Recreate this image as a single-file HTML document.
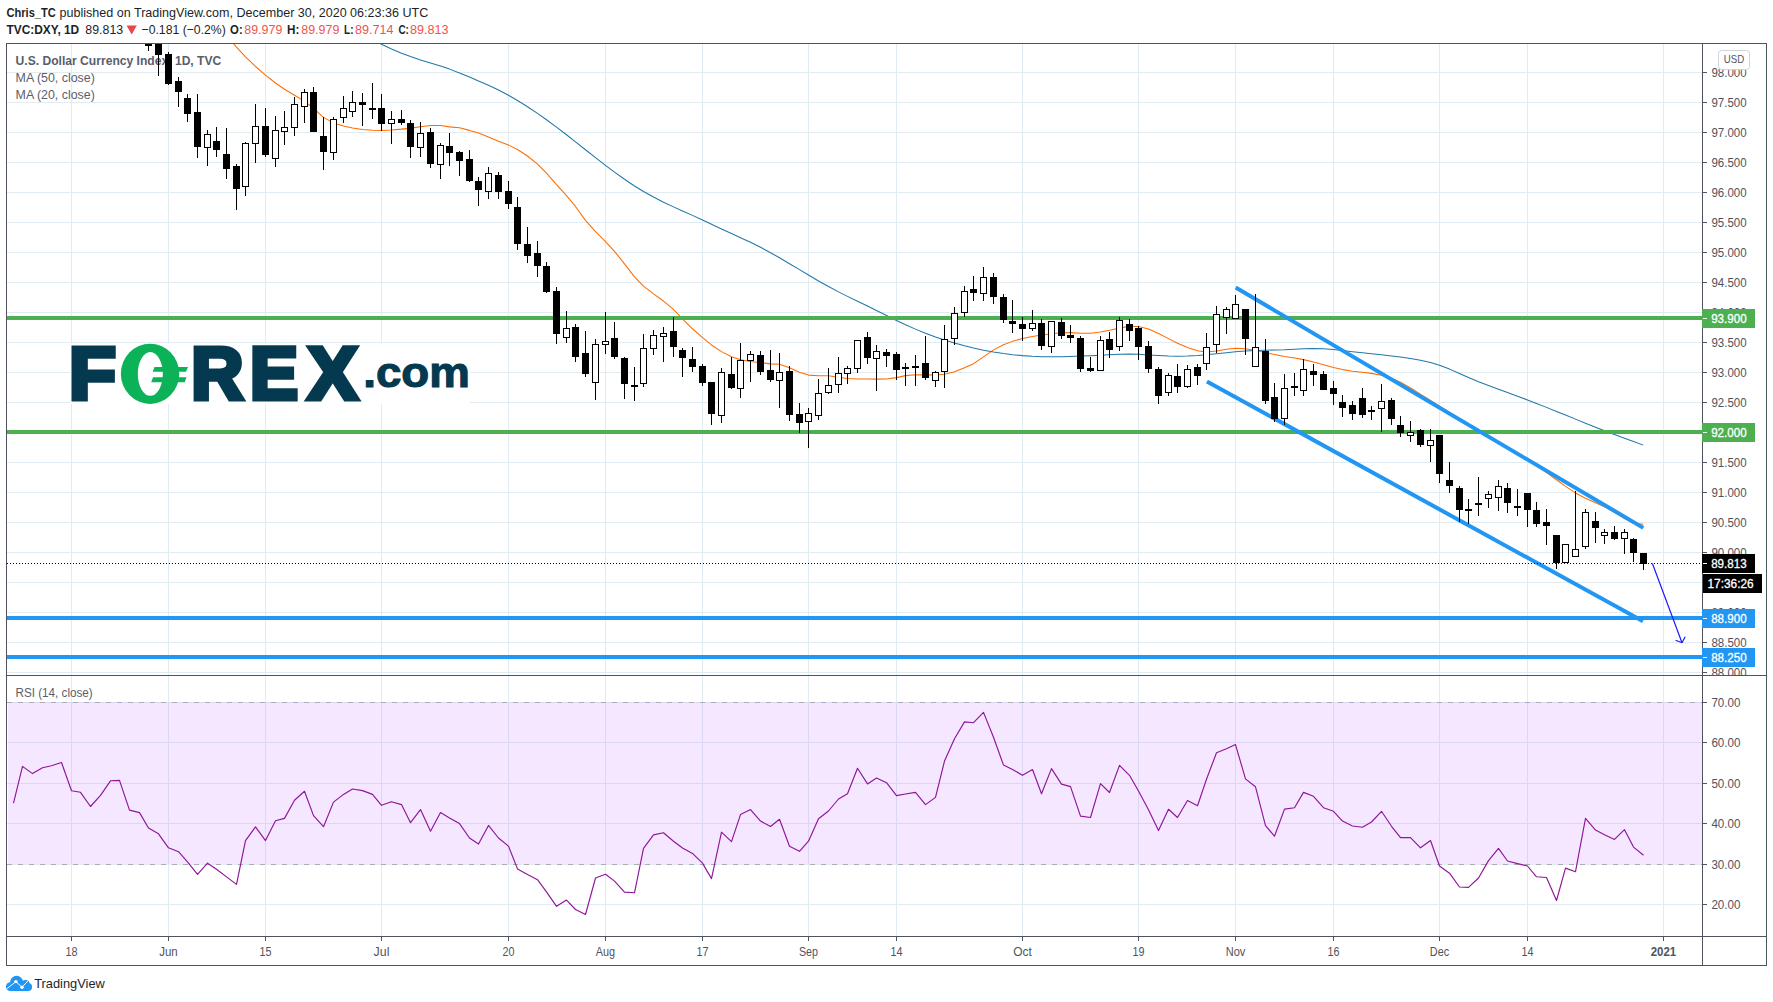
<!DOCTYPE html>
<html lang="en"><head><meta charset="utf-8"><title>DXY chart</title>
<style>html,body{margin:0;padding:0;background:#fff}body{width:1773px;height:1002px;overflow:hidden}</style></head>
<body>
<svg width="1773" height="1002" viewBox="0 0 1773 1002" style="display:block;font-family:'Liberation Sans', Arial, sans-serif">
<rect width="1773" height="1002" fill="#fff"/>
<defs>
<clipPath id="cpMain"><rect x="7" y="44" width="1695" height="631"/></clipPath>
<clipPath id="cpScale"><rect x="1703" y="44" width="63" height="631"/></clipPath>
<clipPath id="cpRsi"><rect x="7" y="676" width="1695" height="260"/></clipPath>
</defs>
<text x="6.5" y="16.9" font-size="13" fill="#1c1f2a" font-weight="bold" text-anchor="start" textLength="49.3" lengthAdjust="spacingAndGlyphs">Chris_TC</text>
<text x="59.6" y="16.9" font-size="13" fill="#1c1f2a" font-weight="normal" text-anchor="start" textLength="368.6" lengthAdjust="spacingAndGlyphs">published on TradingView.com, December 30, 2020 06:23:36 UTC</text>
<text x="6.5" y="33.6" font-size="13" fill="#1c1f2a" font-weight="bold" text-anchor="start" textLength="72.7" lengthAdjust="spacingAndGlyphs">TVC:DXY, 1D</text>
<text x="85.3" y="33.6" font-size="13" fill="#1c1f2a" font-weight="normal" text-anchor="start" textLength="37.9" lengthAdjust="spacingAndGlyphs">89.813</text>
<path d="M126.6 25.6h10.2l-5.1 9z" fill="#e8464d"/>
<text x="141.5" y="33.6" font-size="13" fill="#1c1f2a" font-weight="normal" text-anchor="start" textLength="84.3" lengthAdjust="spacingAndGlyphs">−0.181 (−0.2%)</text>
<text x="230.1" y="33.6" font-size="13" fill="#1c1f2a" font-weight="bold" text-anchor="start" textLength="12.6" lengthAdjust="spacingAndGlyphs">O:</text>
<text x="244.3" y="33.6" font-size="13" fill="#ef5350" font-weight="normal" text-anchor="start" textLength="38" lengthAdjust="spacingAndGlyphs">89.979</text>
<text x="287" y="33.6" font-size="13" fill="#1c1f2a" font-weight="bold" text-anchor="start" textLength="12.3" lengthAdjust="spacingAndGlyphs">H:</text>
<text x="301.3" y="33.6" font-size="13" fill="#ef5350" font-weight="normal" text-anchor="start" textLength="38" lengthAdjust="spacingAndGlyphs">89.979</text>
<text x="344" y="33.6" font-size="13" fill="#1c1f2a" font-weight="bold" text-anchor="start" textLength="9.5" lengthAdjust="spacingAndGlyphs">L:</text>
<text x="355" y="33.6" font-size="13" fill="#ef5350" font-weight="normal" text-anchor="start" textLength="38.6" lengthAdjust="spacingAndGlyphs">89.714</text>
<text x="398.4" y="33.6" font-size="13" fill="#1c1f2a" font-weight="bold" text-anchor="start" textLength="10.5" lengthAdjust="spacingAndGlyphs">C:</text>
<text x="410" y="33.6" font-size="13" fill="#ef5350" font-weight="normal" text-anchor="start" textLength="38.6" lengthAdjust="spacingAndGlyphs">89.813</text>
<g shape-rendering="crispEdges" fill="#e1ecf2">
<rect x="71" y="44" width="1" height="631"/>
<rect x="71" y="676" width="1" height="260"/>
<rect x="168" y="44" width="1" height="631"/>
<rect x="168" y="676" width="1" height="260"/>
<rect x="265" y="44" width="1" height="631"/>
<rect x="265" y="676" width="1" height="260"/>
<rect x="381" y="44" width="1" height="631"/>
<rect x="381" y="676" width="1" height="260"/>
<rect x="508" y="44" width="1" height="631"/>
<rect x="508" y="676" width="1" height="260"/>
<rect x="605" y="44" width="1" height="631"/>
<rect x="605" y="676" width="1" height="260"/>
<rect x="702" y="44" width="1" height="631"/>
<rect x="702" y="676" width="1" height="260"/>
<rect x="808" y="44" width="1" height="631"/>
<rect x="808" y="676" width="1" height="260"/>
<rect x="896" y="44" width="1" height="631"/>
<rect x="896" y="676" width="1" height="260"/>
<rect x="1022" y="44" width="1" height="631"/>
<rect x="1022" y="676" width="1" height="260"/>
<rect x="1138" y="44" width="1" height="631"/>
<rect x="1138" y="676" width="1" height="260"/>
<rect x="1235" y="44" width="1" height="631"/>
<rect x="1235" y="676" width="1" height="260"/>
<rect x="1333" y="44" width="1" height="631"/>
<rect x="1333" y="676" width="1" height="260"/>
<rect x="1439" y="44" width="1" height="631"/>
<rect x="1439" y="676" width="1" height="260"/>
<rect x="1527" y="44" width="1" height="631"/>
<rect x="1527" y="676" width="1" height="260"/>
<rect x="1663" y="44" width="1" height="631"/>
<rect x="1663" y="676" width="1" height="260"/>
<rect x="7" y="72" width="1695" height="1"/>
<rect x="7" y="102" width="1695" height="1"/>
<rect x="7" y="132" width="1695" height="1"/>
<rect x="7" y="162" width="1695" height="1"/>
<rect x="7" y="192" width="1695" height="1"/>
<rect x="7" y="222" width="1695" height="1"/>
<rect x="7" y="252" width="1695" height="1"/>
<rect x="7" y="282" width="1695" height="1"/>
<rect x="7" y="312" width="1695" height="1"/>
<rect x="7" y="342" width="1695" height="1"/>
<rect x="7" y="372" width="1695" height="1"/>
<rect x="7" y="402" width="1695" height="1"/>
<rect x="7" y="432" width="1695" height="1"/>
<rect x="7" y="462" width="1695" height="1"/>
<rect x="7" y="492" width="1695" height="1"/>
<rect x="7" y="522" width="1695" height="1"/>
<rect x="7" y="552" width="1695" height="1"/>
<rect x="7" y="582" width="1695" height="1"/>
<rect x="7" y="612" width="1695" height="1"/>
<rect x="7" y="642" width="1695" height="1"/>
<rect x="7" y="672" width="1695" height="1"/>
<rect x="7" y="702" width="1695" height="1"/>
<rect x="7" y="742" width="1695" height="1"/>
<rect x="7" y="783" width="1695" height="1"/>
<rect x="7" y="823" width="1695" height="1"/>
<rect x="7" y="864" width="1695" height="1"/>
<rect x="7" y="904" width="1695" height="1"/>
</g>
<rect x="8" y="702" width="1694" height="162" fill="rgb(153,21,255)" fill-opacity="0.1" shape-rendering="crispEdges"/>
<g stroke="#b0aab2" stroke-width="1" stroke-dasharray="5 6" shape-rendering="crispEdges">
<line x1="7" y1="702.5" x2="1702" y2="702.5"/>
<line x1="7" y1="864.5" x2="1702" y2="864.5"/>
</g>
<polyline points="13.5,803.2 22.5,766.4 32.5,773.6 42.5,767.8 51.5,765.7 61.5,762.5 71.5,790.8 80.5,792.3 90.5,806.5 100.5,795.3 110.5,780.8 119.5,780.4 129.5,810.1 139.5,812.6 148.5,828.0 158.5,833.8 168.5,847.8 178.5,851.7 187.5,861.8 197.5,874.4 207.5,863.2 216.5,869.3 226.5,876.9 236.5,884.4 245.5,840.6 255.5,826.9 265.5,840.6 275.5,820.8 284.5,818.4 294.5,800.3 304.5,791.3 313.5,815.6 323.5,826.7 333.5,802.1 343.5,794.4 352.5,789.0 362.5,790.6 372.5,794.4 381.5,805.3 391.5,801.7 401.5,804.6 410.5,822.7 420.5,809.6 430.5,831.2 440.5,812.5 449.5,817.9 459.5,823.6 469.5,838.0 478.5,844.1 488.5,825.4 498.5,838.0 508.5,846.1 517.5,868.9 527.5,874.5 537.5,879.7 546.5,891.9 556.5,906.3 566.5,900.1 575.5,909.5 585.5,914.5 595.5,878.0 605.5,874.3 614.5,881.1 624.5,892.1 634.5,892.8 643.5,848.4 653.5,834.9 663.5,832.8 673.5,841.2 682.5,848.0 692.5,853.4 702.5,863.1 711.5,878.6 721.5,832.2 731.5,841.6 740.5,814.6 750.5,809.6 760.5,821.1 770.5,826.5 779.5,819.3 789.5,846.3 799.5,851.3 808.5,841.2 818.5,818.8 828.5,811.0 838.5,799.0 847.5,793.8 857.5,768.3 867.5,783.9 876.5,778.0 886.5,782.7 896.5,795.6 905.5,794.0 915.5,792.4 925.5,804.6 935.5,797.4 944.5,761.1 954.5,738.7 964.5,721.9 973.5,722.7 983.5,712.4 993.5,737.2 1003.5,765.1 1012.5,769.5 1022.5,775.3 1032.5,769.5 1041.5,793.8 1051.5,768.6 1061.5,784.1 1070.5,786.6 1080.5,816.1 1090.5,817.5 1100.5,783.6 1109.5,792.5 1119.5,765.4 1129.5,775.3 1138.5,791.0 1148.5,809.8 1158.5,830.5 1168.5,809.3 1177.5,817.5 1187.5,800.5 1197.5,805.7 1206.5,779.3 1216.5,752.7 1226.5,748.7 1235.5,744.6 1245.5,778.9 1255.5,786.8 1265.5,825.6 1274.5,836.2 1284.5,809.1 1294.5,807.8 1303.5,792.4 1313.5,796.3 1323.5,807.7 1333.5,811.3 1342.5,821.1 1352.5,826.0 1362.5,827.2 1371.5,822.0 1381.5,811.3 1391.5,826.3 1400.5,837.6 1410.5,837.6 1420.5,847.8 1430.5,840.5 1439.5,866.0 1449.5,873.2 1459.5,887.0 1468.5,887.4 1478.5,878.0 1488.5,860.6 1498.5,848.4 1507.5,861.0 1517.5,863.6 1527.5,866.0 1536.5,876.8 1546.5,877.5 1556.5,900.5 1565.5,868.1 1575.5,871.7 1585.5,818.4 1595.5,830.1 1604.5,834.7 1614.5,839.4 1624.5,829.7 1633.5,847.1 1643.5,855.2" fill="none" stroke="#8e1599" stroke-width="1.15" stroke-linejoin="round" clip-path="url(#cpRsi)"/>
<text x="15.5" y="697" font-size="12" fill="#5a5e6b" font-weight="normal" text-anchor="start" textLength="77.2" lengthAdjust="spacingAndGlyphs">RSI (14, close)</text>
<text x="15.6" y="64.7" font-size="12" fill="#5a5e6b" font-weight="bold" text-anchor="start" textLength="205.7" lengthAdjust="spacingAndGlyphs">U.S. Dollar Currency Index, 1D, TVC</text>
<text x="15.6" y="81.9" font-size="12" fill="#5a5e6b" font-weight="normal" text-anchor="start" textLength="79.2" lengthAdjust="spacingAndGlyphs">MA (50, close)</text>
<text x="15.6" y="98.5" font-size="12" fill="#5a5e6b" font-weight="normal" text-anchor="start" textLength="79.2" lengthAdjust="spacingAndGlyphs">MA (20, close)</text>
<rect x="70" y="343.5" width="399.5" height="60.5" fill="#fff"/>
<g font-weight="bold" fill="#04394f" stroke="#04394f" stroke-linejoin="miter">
<text transform="translate(68.98 399.34) scale(1.0581 1.0196)" font-size="72.6" stroke-width="5">F</text>
<text transform="translate(120.94 399.96) scale(1.0196 1.0385)" font-size="72.6" stroke-width="0" fill="#0bb257" stroke="#0bb257">O</text>
<text transform="translate(191.21 399.34) scale(0.9943 1.0196)" font-size="72.6" stroke-width="5">R</text>
<text transform="translate(250.12 399.34) scale(0.9915 1.0196)" font-size="72.6" stroke-width="5">E</text>
<text transform="translate(307.72 399.34) scale(1.0304 1.0196)" font-size="72.6" stroke-width="5">X</text>
<text transform="translate(363.19 386.52) scale(1.0039 0.9500)" font-size="45.5" stroke-width="1.2">.com</text>
</g>
<ellipse cx="150.05" cy="373.85" rx="29.2" ry="30.05" fill="#0bb257"/>
<ellipse cx="150.3" cy="373.95" rx="12.5" ry="21.9" fill="#fff"/>
<path d="M154.5 367H188L186 371.8H152.7z M153 377.3H186.5L184.7 382.3H151.2z" fill="#0bb257"/>
<g clip-path="url(#cpMain)" fill="none" stroke-linejoin="round">
<polyline stroke="#ff6d00" stroke-width="1.05" points="233.5,43.71 236.5,47.20 245.5,56.89 255.5,66.48 265.5,75.14 275.5,82.99 284.5,89.24 294.5,95.26 304.5,101.34 313.5,108.29 323.5,117.36 333.5,122.88 343.5,126.00 352.5,127.98 362.5,129.48 372.5,130.27 381.5,130.41 391.5,129.99 401.5,129.12 410.5,128.11 420.5,126.79 430.5,125.49 440.5,125.55 449.5,126.87 459.5,127.79 469.5,130.38 478.5,133.02 488.5,137.05 498.5,141.33 508.5,145.11 517.5,149.51 527.5,155.98 537.5,164.21 546.5,173.21 556.5,184.68 566.5,195.60 575.5,206.45 585.5,220.32 595.5,231.66 605.5,241.53 614.5,251.31 624.5,263.90 634.5,276.94 643.5,286.09 653.5,293.90 663.5,301.05 673.5,309.43 682.5,318.80 692.5,328.76 702.5,337.64 711.5,344.94 721.5,351.65 731.5,356.69 740.5,359.78 750.5,361.59 760.5,362.72 770.5,363.87 779.5,364.28 789.5,367.68 799.5,372.26 808.5,375.11 818.5,375.68 828.5,375.83 838.5,377.33 847.5,378.47 857.5,378.99 867.5,379.08 876.5,379.11 886.5,378.92 896.5,377.63 905.5,375.62 915.5,374.73 925.5,374.89 935.5,375.00 944.5,374.31 954.5,371.84 964.5,367.82 973.5,363.65 983.5,356.89 993.5,349.85 1003.5,344.74 1012.5,341.37 1022.5,338.51 1032.5,336.40 1041.5,334.97 1051.5,333.74 1061.5,332.79 1070.5,332.62 1080.5,333.21 1090.5,333.25 1100.5,332.09 1109.5,330.23 1119.5,327.91 1129.5,326.36 1138.5,326.47 1148.5,328.99 1158.5,333.41 1168.5,338.63 1177.5,343.20 1187.5,347.57 1197.5,350.73 1206.5,351.93 1216.5,351.07 1226.5,349.29 1235.5,348.26 1245.5,348.84 1255.5,350.55 1265.5,352.58 1274.5,354.47 1284.5,356.44 1294.5,358.10 1303.5,359.63 1313.5,361.95 1323.5,364.76 1333.5,367.54 1342.5,369.61 1352.5,371.16 1362.5,372.30 1371.5,373.39 1381.5,375.18 1391.5,378.13 1400.5,382.19 1410.5,387.95 1420.5,394.12 1430.5,400.47 1439.5,406.28 1449.5,412.78 1459.5,419.25 1468.5,424.99 1478.5,431.21 1488.5,437.21 1498.5,443.05 1507.5,448.28 1517.5,454.14 1527.5,460.19 1536.5,465.88 1546.5,472.57 1556.5,479.76 1565.5,486.34 1575.5,492.93 1585.5,498.18 1595.5,502.67 1604.5,506.78 1614.5,512.19 1624.5,518.59 1633.5,523.16 1643.3,524.20"/>
<polyline stroke="#1f78a8" stroke-width="1.05" points="380.4,43.68 381.5,44.24 391.5,49.01 401.5,53.19 410.5,56.55 420.5,59.90 430.5,63.00 440.5,66.10 449.5,69.12 459.5,72.92 469.5,77.06 478.5,80.93 488.5,85.30 498.5,89.98 508.5,95.23 517.5,100.44 527.5,106.70 537.5,113.40 546.5,119.77 556.5,127.14 566.5,134.78 575.5,141.83 585.5,149.74 595.5,157.64 605.5,165.39 614.5,172.14 624.5,179.29 634.5,185.96 643.5,191.47 653.5,197.07 663.5,202.19 673.5,206.88 682.5,210.90 692.5,215.36 702.5,220.02 711.5,224.31 721.5,228.99 731.5,233.55 740.5,237.65 750.5,242.34 760.5,247.32 770.5,252.69 779.5,257.80 789.5,263.69 799.5,269.67 808.5,275.06 818.5,280.93 828.5,286.57 838.5,291.86 847.5,296.35 857.5,301.17 867.5,305.98 876.5,310.43 886.5,315.45 896.5,320.41 905.5,324.69 915.5,329.12 925.5,333.21 935.5,336.94 944.5,340.00 954.5,343.09 964.5,345.85 973.5,348.05 983.5,350.19 993.5,352.03 1003.5,353.55 1012.5,354.67 1022.5,355.63 1032.5,356.30 1041.5,356.67 1051.5,356.82 1061.5,356.70 1070.5,356.40 1080.5,356.05 1090.5,355.76 1100.5,355.32 1109.5,354.77 1119.5,354.23 1129.5,354.04 1138.5,354.31 1148.5,354.92 1158.5,355.58 1168.5,356.10 1177.5,356.27 1187.5,356.03 1197.5,355.43 1206.5,354.67 1216.5,353.68 1226.5,352.65 1235.5,351.78 1245.5,350.97 1255.5,350.45 1265.5,350.19 1274.5,350.05 1284.5,349.81 1294.5,349.34 1303.5,348.84 1313.5,348.56 1323.5,348.83 1333.5,349.57 1342.5,350.49 1352.5,351.66 1362.5,352.81 1371.5,353.78 1381.5,354.83 1391.5,355.94 1400.5,357.05 1410.5,358.50 1420.5,360.27 1430.5,362.57 1439.5,365.29 1449.5,369.11 1459.5,373.47 1468.5,377.50 1478.5,381.72 1488.5,385.57 1498.5,389.27 1507.5,392.55 1517.5,396.22 1527.5,399.96 1536.5,403.42 1546.5,407.37 1556.5,411.39 1565.5,415.05 1575.5,419.12 1585.5,423.17 1595.5,427.17 1604.5,430.70 1614.5,434.54 1624.5,438.30 1633.5,441.60 1643.3,445.12"/>
<g shape-rendering="crispEdges">
<rect x="7" y="316" width="1695" height="4" fill="#4caf50"/>
<rect x="7" y="430" width="1695" height="4" fill="#4caf50"/>
<rect x="7" y="616" width="1695" height="4" fill="#2196f3"/>
<rect x="7" y="655" width="1695" height="4" fill="#2196f3"/>
</g>
<line x1="1235.7" y1="287.5" x2="1643.3" y2="527.9" stroke="#2196f3" stroke-width="4"/>
<line x1="1206.9" y1="381.4" x2="1643" y2="621.3" stroke="#2196f3" stroke-width="4"/>
<path d="M1652.4 563.5L1682 642.7M1675.6 640.3L1682 642.7L1685.2 636.7" stroke="#1a1aff" stroke-width="1.2"/>
<line x1="7" y1="563.5" x2="1702" y2="563.5" stroke="#000" stroke-width="1" stroke-dasharray="1 2" shape-rendering="crispEdges"/>
</g>
<g clip-path="url(#cpMain)" shape-rendering="crispEdges">
<rect x="148" y="46" width="1" height="5"/>
<rect x="145" y="30" width="7" height="16"/>
<rect x="158" y="55" width="1" height="21"/>
<rect x="155" y="30" width="7" height="25"/>
<rect x="168" y="52" width="1" height="2"/>
<rect x="168" y="84" width="1" height="1"/>
<rect x="165" y="54" width="7" height="30"/>
<rect x="178" y="77" width="1" height="4"/>
<rect x="178" y="92" width="1" height="15"/>
<rect x="175" y="81" width="7" height="11"/>
<rect x="187" y="94" width="1" height="4"/>
<rect x="187" y="114" width="1" height="8"/>
<rect x="184" y="98" width="7" height="16"/>
<rect x="197" y="94" width="1" height="18"/>
<rect x="197" y="147" width="1" height="11"/>
<rect x="194" y="112" width="7" height="35"/>
<rect x="207" y="130" width="1" height="4"/>
<rect x="207" y="148" width="1" height="18"/>
<rect x="204" y="134" width="7" height="14"/>
<rect x="205" y="135" width="5" height="12" fill="#fff"/>
<rect x="216" y="127" width="1" height="14"/>
<rect x="216" y="150" width="1" height="7"/>
<rect x="213" y="141" width="7" height="9"/>
<rect x="226" y="128" width="1" height="26"/>
<rect x="226" y="169" width="1" height="10"/>
<rect x="223" y="154" width="7" height="15"/>
<rect x="236" y="164" width="1" height="2"/>
<rect x="236" y="189" width="1" height="21"/>
<rect x="233" y="166" width="7" height="23"/>
<rect x="245" y="142" width="1" height="1"/>
<rect x="245" y="187" width="1" height="9"/>
<rect x="242" y="143" width="7" height="44"/>
<rect x="243" y="144" width="5" height="42" fill="#fff"/>
<rect x="255" y="104" width="1" height="22"/>
<rect x="255" y="144" width="1" height="19"/>
<rect x="252" y="126" width="7" height="18"/>
<rect x="253" y="127" width="5" height="16" fill="#fff"/>
<rect x="265" y="108" width="1" height="18"/>
<rect x="265" y="155" width="1" height="2"/>
<rect x="262" y="126" width="7" height="29"/>
<rect x="275" y="116" width="1" height="14"/>
<rect x="275" y="159" width="1" height="8"/>
<rect x="272" y="130" width="7" height="29"/>
<rect x="273" y="131" width="5" height="27" fill="#fff"/>
<rect x="284" y="111" width="1" height="16"/>
<rect x="284" y="132" width="1" height="13"/>
<rect x="281" y="127" width="7" height="5"/>
<rect x="282" y="128" width="5" height="3" fill="#fff"/>
<rect x="294" y="97" width="1" height="7"/>
<rect x="294" y="128" width="1" height="8"/>
<rect x="291" y="104" width="7" height="24"/>
<rect x="292" y="105" width="5" height="22" fill="#fff"/>
<rect x="304" y="89" width="1" height="3"/>
<rect x="304" y="107" width="1" height="16"/>
<rect x="301" y="92" width="7" height="15"/>
<rect x="302" y="93" width="5" height="13" fill="#fff"/>
<rect x="313" y="87" width="1" height="5"/>
<rect x="310" y="92" width="7" height="40"/>
<rect x="323" y="117" width="1" height="19"/>
<rect x="323" y="152" width="1" height="18"/>
<rect x="320" y="136" width="7" height="16"/>
<rect x="333" y="117" width="1" height="2"/>
<rect x="333" y="153" width="1" height="7"/>
<rect x="330" y="119" width="7" height="34"/>
<rect x="331" y="120" width="5" height="32" fill="#fff"/>
<rect x="343" y="96" width="1" height="12"/>
<rect x="343" y="118" width="1" height="5"/>
<rect x="340" y="108" width="7" height="10"/>
<rect x="341" y="109" width="5" height="8" fill="#fff"/>
<rect x="352" y="91" width="1" height="11"/>
<rect x="352" y="112" width="1" height="5"/>
<rect x="349" y="102" width="7" height="10"/>
<rect x="350" y="103" width="5" height="8" fill="#fff"/>
<rect x="362" y="93" width="1" height="9"/>
<rect x="362" y="105" width="1" height="21"/>
<rect x="359" y="102" width="7" height="3"/>
<rect x="372" y="83" width="1" height="25"/>
<rect x="372" y="110" width="1" height="9"/>
<rect x="369" y="108" width="7" height="2"/>
<rect x="381" y="94" width="1" height="14"/>
<rect x="381" y="124" width="1" height="7"/>
<rect x="378" y="108" width="7" height="16"/>
<rect x="391" y="111" width="1" height="8"/>
<rect x="391" y="124" width="1" height="20"/>
<rect x="388" y="119" width="7" height="5"/>
<rect x="389" y="120" width="5" height="3" fill="#fff"/>
<rect x="401" y="110" width="1" height="9"/>
<rect x="401" y="123" width="1" height="2"/>
<rect x="398" y="119" width="7" height="4"/>
<rect x="410" y="120" width="1" height="3"/>
<rect x="410" y="147" width="1" height="11"/>
<rect x="407" y="123" width="7" height="24"/>
<rect x="420" y="122" width="1" height="11"/>
<rect x="420" y="148" width="1" height="9"/>
<rect x="417" y="133" width="7" height="15"/>
<rect x="418" y="134" width="5" height="13" fill="#fff"/>
<rect x="430" y="128" width="1" height="4"/>
<rect x="430" y="164" width="1" height="4"/>
<rect x="427" y="132" width="7" height="32"/>
<rect x="440" y="143" width="1" height="2"/>
<rect x="440" y="165" width="1" height="14"/>
<rect x="437" y="145" width="7" height="20"/>
<rect x="438" y="146" width="5" height="18" fill="#fff"/>
<rect x="449" y="133" width="1" height="13"/>
<rect x="449" y="153" width="1" height="13"/>
<rect x="446" y="146" width="7" height="7"/>
<rect x="459" y="151" width="1" height="1"/>
<rect x="459" y="161" width="1" height="15"/>
<rect x="456" y="152" width="7" height="9"/>
<rect x="469" y="150" width="1" height="9"/>
<rect x="469" y="181" width="1" height="1"/>
<rect x="466" y="159" width="7" height="22"/>
<rect x="478" y="177" width="1" height="4"/>
<rect x="478" y="190" width="1" height="16"/>
<rect x="475" y="181" width="7" height="9"/>
<rect x="488" y="167" width="1" height="6"/>
<rect x="488" y="192" width="1" height="7"/>
<rect x="485" y="173" width="7" height="19"/>
<rect x="486" y="174" width="5" height="17" fill="#fff"/>
<rect x="498" y="172" width="1" height="3"/>
<rect x="498" y="192" width="1" height="7"/>
<rect x="495" y="175" width="7" height="17"/>
<rect x="508" y="181" width="1" height="10"/>
<rect x="508" y="204" width="1" height="5"/>
<rect x="505" y="191" width="7" height="13"/>
<rect x="517" y="197" width="1" height="10"/>
<rect x="517" y="244" width="1" height="6"/>
<rect x="514" y="207" width="7" height="37"/>
<rect x="527" y="227" width="1" height="17"/>
<rect x="527" y="256" width="1" height="7"/>
<rect x="524" y="244" width="7" height="12"/>
<rect x="537" y="241" width="1" height="12"/>
<rect x="537" y="266" width="1" height="11"/>
<rect x="534" y="253" width="7" height="13"/>
<rect x="546" y="262" width="1" height="4"/>
<rect x="546" y="292" width="1" height="1"/>
<rect x="543" y="266" width="7" height="26"/>
<rect x="556" y="287" width="1" height="4"/>
<rect x="556" y="334" width="1" height="10"/>
<rect x="553" y="291" width="7" height="43"/>
<rect x="566" y="311" width="1" height="17"/>
<rect x="566" y="338" width="1" height="5"/>
<rect x="563" y="328" width="7" height="10"/>
<rect x="564" y="329" width="5" height="8" fill="#fff"/>
<rect x="575" y="324" width="1" height="3"/>
<rect x="575" y="357" width="1" height="5"/>
<rect x="572" y="327" width="7" height="30"/>
<rect x="585" y="331" width="1" height="22"/>
<rect x="585" y="374" width="1" height="3"/>
<rect x="582" y="353" width="7" height="21"/>
<rect x="595" y="339" width="1" height="5"/>
<rect x="595" y="383" width="1" height="17"/>
<rect x="592" y="344" width="7" height="39"/>
<rect x="593" y="345" width="5" height="37" fill="#fff"/>
<rect x="605" y="312" width="1" height="29"/>
<rect x="605" y="345" width="1" height="9"/>
<rect x="602" y="341" width="7" height="4"/>
<rect x="603" y="342" width="5" height="2" fill="#fff"/>
<rect x="614" y="322" width="1" height="16"/>
<rect x="614" y="357" width="1" height="2"/>
<rect x="611" y="338" width="7" height="19"/>
<rect x="624" y="357" width="1" height="1"/>
<rect x="624" y="384" width="1" height="15"/>
<rect x="621" y="358" width="7" height="26"/>
<rect x="634" y="367" width="1" height="18"/>
<rect x="634" y="387" width="1" height="14"/>
<rect x="631" y="385" width="7" height="2"/>
<rect x="643" y="334" width="1" height="14"/>
<rect x="643" y="384" width="1" height="3"/>
<rect x="640" y="348" width="7" height="36"/>
<rect x="641" y="349" width="5" height="34" fill="#fff"/>
<rect x="653" y="330" width="1" height="5"/>
<rect x="653" y="349" width="1" height="6"/>
<rect x="650" y="335" width="7" height="14"/>
<rect x="651" y="336" width="5" height="12" fill="#fff"/>
<rect x="663" y="327" width="1" height="6"/>
<rect x="663" y="337" width="1" height="25"/>
<rect x="660" y="333" width="7" height="4"/>
<rect x="661" y="334" width="5" height="2" fill="#fff"/>
<rect x="673" y="317" width="1" height="14"/>
<rect x="673" y="347" width="1" height="10"/>
<rect x="670" y="331" width="7" height="16"/>
<rect x="682" y="348" width="1" height="2"/>
<rect x="682" y="358" width="1" height="19"/>
<rect x="679" y="350" width="7" height="8"/>
<rect x="692" y="347" width="1" height="12"/>
<rect x="692" y="367" width="1" height="5"/>
<rect x="689" y="359" width="7" height="8"/>
<rect x="702" y="364" width="1" height="2"/>
<rect x="702" y="383" width="1" height="3"/>
<rect x="699" y="366" width="7" height="17"/>
<rect x="711" y="414" width="1" height="11"/>
<rect x="708" y="382" width="7" height="32"/>
<rect x="721" y="368" width="1" height="4"/>
<rect x="721" y="416" width="1" height="7"/>
<rect x="718" y="372" width="7" height="44"/>
<rect x="719" y="373" width="5" height="42" fill="#fff"/>
<rect x="731" y="357" width="1" height="17"/>
<rect x="731" y="388" width="1" height="1"/>
<rect x="728" y="374" width="7" height="14"/>
<rect x="740" y="343" width="1" height="17"/>
<rect x="740" y="389" width="1" height="9"/>
<rect x="737" y="360" width="7" height="29"/>
<rect x="738" y="361" width="5" height="27" fill="#fff"/>
<rect x="750" y="351" width="1" height="3"/>
<rect x="750" y="361" width="1" height="21"/>
<rect x="747" y="354" width="7" height="7"/>
<rect x="748" y="355" width="5" height="5" fill="#fff"/>
<rect x="760" y="351" width="1" height="4"/>
<rect x="760" y="372" width="1" height="3"/>
<rect x="757" y="355" width="7" height="17"/>
<rect x="770" y="350" width="1" height="20"/>
<rect x="770" y="380" width="1" height="2"/>
<rect x="767" y="370" width="7" height="10"/>
<rect x="779" y="353" width="1" height="19"/>
<rect x="779" y="381" width="1" height="27"/>
<rect x="776" y="372" width="7" height="9"/>
<rect x="777" y="373" width="5" height="7" fill="#fff"/>
<rect x="789" y="366" width="1" height="5"/>
<rect x="789" y="415" width="1" height="6"/>
<rect x="786" y="371" width="7" height="44"/>
<rect x="799" y="403" width="1" height="11"/>
<rect x="799" y="423" width="1" height="10"/>
<rect x="796" y="414" width="7" height="9"/>
<rect x="808" y="408" width="1" height="5"/>
<rect x="808" y="422" width="1" height="26"/>
<rect x="805" y="413" width="7" height="9"/>
<rect x="806" y="414" width="5" height="7" fill="#fff"/>
<rect x="818" y="379" width="1" height="14"/>
<rect x="818" y="416" width="1" height="4"/>
<rect x="815" y="393" width="7" height="23"/>
<rect x="816" y="394" width="5" height="21" fill="#fff"/>
<rect x="828" y="368" width="1" height="17"/>
<rect x="828" y="393" width="1" height="1"/>
<rect x="825" y="385" width="7" height="8"/>
<rect x="826" y="386" width="5" height="6" fill="#fff"/>
<rect x="838" y="357" width="1" height="16"/>
<rect x="838" y="385" width="1" height="8"/>
<rect x="835" y="373" width="7" height="12"/>
<rect x="836" y="374" width="5" height="10" fill="#fff"/>
<rect x="847" y="366" width="1" height="2"/>
<rect x="847" y="374" width="1" height="10"/>
<rect x="844" y="368" width="7" height="6"/>
<rect x="845" y="369" width="5" height="4" fill="#fff"/>
<rect x="857" y="369" width="1" height="4"/>
<rect x="854" y="340" width="7" height="29"/>
<rect x="855" y="341" width="5" height="27" fill="#fff"/>
<rect x="867" y="332" width="1" height="5"/>
<rect x="867" y="358" width="1" height="6"/>
<rect x="864" y="337" width="7" height="21"/>
<rect x="876" y="345" width="1" height="6"/>
<rect x="876" y="359" width="1" height="32"/>
<rect x="873" y="351" width="7" height="8"/>
<rect x="874" y="352" width="5" height="6" fill="#fff"/>
<rect x="886" y="349" width="1" height="3"/>
<rect x="886" y="356" width="1" height="11"/>
<rect x="883" y="352" width="7" height="4"/>
<rect x="896" y="352" width="1" height="2"/>
<rect x="896" y="370" width="1" height="10"/>
<rect x="893" y="354" width="7" height="16"/>
<rect x="905" y="363" width="1" height="4"/>
<rect x="905" y="369" width="1" height="17"/>
<rect x="902" y="367" width="7" height="2"/>
<rect x="915" y="355" width="1" height="11"/>
<rect x="915" y="368" width="1" height="18"/>
<rect x="912" y="366" width="7" height="2"/>
<rect x="925" y="336" width="1" height="27"/>
<rect x="925" y="378" width="1" height="2"/>
<rect x="922" y="363" width="7" height="15"/>
<rect x="935" y="371" width="1" height="1"/>
<rect x="935" y="381" width="1" height="6"/>
<rect x="932" y="372" width="7" height="9"/>
<rect x="933" y="373" width="5" height="7" fill="#fff"/>
<rect x="944" y="325" width="1" height="14"/>
<rect x="944" y="372" width="1" height="16"/>
<rect x="941" y="339" width="7" height="33"/>
<rect x="942" y="340" width="5" height="31" fill="#fff"/>
<rect x="954" y="307" width="1" height="6"/>
<rect x="954" y="339" width="1" height="6"/>
<rect x="951" y="313" width="7" height="26"/>
<rect x="952" y="314" width="5" height="24" fill="#fff"/>
<rect x="964" y="286" width="1" height="5"/>
<rect x="964" y="313" width="1" height="4"/>
<rect x="961" y="291" width="7" height="22"/>
<rect x="962" y="292" width="5" height="20" fill="#fff"/>
<rect x="973" y="276" width="1" height="13"/>
<rect x="973" y="293" width="1" height="8"/>
<rect x="970" y="289" width="7" height="4"/>
<rect x="983" y="267" width="1" height="10"/>
<rect x="983" y="294" width="1" height="7"/>
<rect x="980" y="277" width="7" height="17"/>
<rect x="981" y="278" width="5" height="15" fill="#fff"/>
<rect x="993" y="273" width="1" height="4"/>
<rect x="993" y="297" width="1" height="7"/>
<rect x="990" y="277" width="7" height="20"/>
<rect x="1003" y="294" width="1" height="3"/>
<rect x="1003" y="320" width="1" height="3"/>
<rect x="1000" y="297" width="7" height="23"/>
<rect x="1012" y="300" width="1" height="21"/>
<rect x="1012" y="324" width="1" height="9"/>
<rect x="1009" y="321" width="7" height="3"/>
<rect x="1022" y="317" width="1" height="7"/>
<rect x="1022" y="329" width="1" height="12"/>
<rect x="1019" y="324" width="7" height="5"/>
<rect x="1032" y="310" width="1" height="13"/>
<rect x="1032" y="329" width="1" height="2"/>
<rect x="1029" y="323" width="7" height="6"/>
<rect x="1030" y="324" width="5" height="4" fill="#fff"/>
<rect x="1041" y="319" width="1" height="4"/>
<rect x="1041" y="346" width="1" height="4"/>
<rect x="1038" y="323" width="7" height="23"/>
<rect x="1051" y="347" width="1" height="6"/>
<rect x="1048" y="321" width="7" height="26"/>
<rect x="1049" y="322" width="5" height="24" fill="#fff"/>
<rect x="1061" y="318" width="1" height="4"/>
<rect x="1061" y="336" width="1" height="3"/>
<rect x="1058" y="322" width="7" height="14"/>
<rect x="1070" y="325" width="1" height="10"/>
<rect x="1070" y="338" width="1" height="5"/>
<rect x="1067" y="335" width="7" height="3"/>
<rect x="1080" y="336" width="1" height="2"/>
<rect x="1080" y="369" width="1" height="3"/>
<rect x="1077" y="338" width="7" height="31"/>
<rect x="1090" y="357" width="1" height="11"/>
<rect x="1090" y="371" width="1" height="1"/>
<rect x="1087" y="368" width="7" height="3"/>
<rect x="1100" y="336" width="1" height="4"/>
<rect x="1097" y="340" width="7" height="31"/>
<rect x="1098" y="341" width="5" height="29" fill="#fff"/>
<rect x="1109" y="332" width="1" height="7"/>
<rect x="1109" y="350" width="1" height="8"/>
<rect x="1106" y="339" width="7" height="11"/>
<rect x="1119" y="317" width="1" height="3"/>
<rect x="1119" y="347" width="1" height="4"/>
<rect x="1116" y="320" width="7" height="27"/>
<rect x="1117" y="321" width="5" height="25" fill="#fff"/>
<rect x="1129" y="319" width="1" height="5"/>
<rect x="1129" y="331" width="1" height="10"/>
<rect x="1126" y="324" width="7" height="7"/>
<rect x="1138" y="326" width="1" height="2"/>
<rect x="1138" y="347" width="1" height="13"/>
<rect x="1135" y="328" width="7" height="19"/>
<rect x="1148" y="341" width="1" height="5"/>
<rect x="1148" y="369" width="1" height="4"/>
<rect x="1145" y="346" width="7" height="23"/>
<rect x="1158" y="367" width="1" height="2"/>
<rect x="1158" y="396" width="1" height="8"/>
<rect x="1155" y="369" width="7" height="27"/>
<rect x="1168" y="373" width="1" height="2"/>
<rect x="1168" y="393" width="1" height="3"/>
<rect x="1165" y="375" width="7" height="18"/>
<rect x="1166" y="376" width="5" height="16" fill="#fff"/>
<rect x="1177" y="364" width="1" height="12"/>
<rect x="1177" y="387" width="1" height="6"/>
<rect x="1174" y="376" width="7" height="11"/>
<rect x="1187" y="365" width="1" height="4"/>
<rect x="1187" y="387" width="1" height="1"/>
<rect x="1184" y="369" width="7" height="18"/>
<rect x="1185" y="370" width="5" height="16" fill="#fff"/>
<rect x="1197" y="364" width="1" height="3"/>
<rect x="1197" y="376" width="1" height="9"/>
<rect x="1194" y="367" width="7" height="9"/>
<rect x="1206" y="333" width="1" height="14"/>
<rect x="1206" y="364" width="1" height="6"/>
<rect x="1203" y="347" width="7" height="17"/>
<rect x="1204" y="348" width="5" height="15" fill="#fff"/>
<rect x="1216" y="306" width="1" height="8"/>
<rect x="1216" y="345" width="1" height="8"/>
<rect x="1213" y="314" width="7" height="31"/>
<rect x="1214" y="315" width="5" height="29" fill="#fff"/>
<rect x="1226" y="307" width="1" height="2"/>
<rect x="1226" y="318" width="1" height="16"/>
<rect x="1223" y="309" width="7" height="9"/>
<rect x="1224" y="310" width="5" height="7" fill="#fff"/>
<rect x="1235" y="295" width="1" height="9"/>
<rect x="1232" y="304" width="7" height="15"/>
<rect x="1233" y="305" width="5" height="13" fill="#fff"/>
<rect x="1245" y="339" width="1" height="16"/>
<rect x="1242" y="309" width="7" height="30"/>
<rect x="1255" y="294" width="1" height="53"/>
<rect x="1252" y="347" width="7" height="20"/>
<rect x="1253" y="348" width="5" height="18" fill="#fff"/>
<rect x="1265" y="339" width="1" height="12"/>
<rect x="1265" y="401" width="1" height="3"/>
<rect x="1262" y="351" width="7" height="50"/>
<rect x="1274" y="383" width="1" height="14"/>
<rect x="1274" y="419" width="1" height="3"/>
<rect x="1271" y="397" width="7" height="22"/>
<rect x="1284" y="374" width="1" height="14"/>
<rect x="1284" y="419" width="1" height="6"/>
<rect x="1281" y="388" width="7" height="31"/>
<rect x="1282" y="389" width="5" height="29" fill="#fff"/>
<rect x="1294" y="373" width="1" height="13"/>
<rect x="1294" y="388" width="1" height="8"/>
<rect x="1291" y="386" width="7" height="2"/>
<rect x="1303" y="359" width="1" height="10"/>
<rect x="1303" y="391" width="1" height="5"/>
<rect x="1300" y="369" width="7" height="22"/>
<rect x="1301" y="370" width="5" height="20" fill="#fff"/>
<rect x="1313" y="364" width="1" height="7"/>
<rect x="1313" y="375" width="1" height="11"/>
<rect x="1310" y="371" width="7" height="4"/>
<rect x="1323" y="371" width="1" height="3"/>
<rect x="1320" y="374" width="7" height="16"/>
<rect x="1333" y="381" width="1" height="7"/>
<rect x="1333" y="394" width="1" height="11"/>
<rect x="1330" y="388" width="7" height="6"/>
<rect x="1342" y="395" width="1" height="7"/>
<rect x="1342" y="408" width="1" height="9"/>
<rect x="1339" y="402" width="7" height="6"/>
<rect x="1352" y="401" width="1" height="4"/>
<rect x="1352" y="414" width="1" height="6"/>
<rect x="1349" y="405" width="7" height="9"/>
<rect x="1362" y="388" width="1" height="10"/>
<rect x="1362" y="415" width="1" height="3"/>
<rect x="1359" y="398" width="7" height="17"/>
<rect x="1371" y="406" width="1" height="4"/>
<rect x="1371" y="412" width="1" height="8"/>
<rect x="1368" y="410" width="7" height="2"/>
<rect x="1381" y="384" width="1" height="17"/>
<rect x="1381" y="409" width="1" height="23"/>
<rect x="1378" y="401" width="7" height="8"/>
<rect x="1379" y="402" width="5" height="6" fill="#fff"/>
<rect x="1391" y="398" width="1" height="2"/>
<rect x="1391" y="419" width="1" height="6"/>
<rect x="1388" y="400" width="7" height="19"/>
<rect x="1400" y="416" width="1" height="9"/>
<rect x="1400" y="433" width="1" height="4"/>
<rect x="1397" y="425" width="7" height="8"/>
<rect x="1410" y="421" width="1" height="11"/>
<rect x="1410" y="436" width="1" height="6"/>
<rect x="1407" y="432" width="7" height="4"/>
<rect x="1408" y="433" width="5" height="2" fill="#fff"/>
<rect x="1420" y="429" width="1" height="1"/>
<rect x="1420" y="445" width="1" height="2"/>
<rect x="1417" y="430" width="7" height="15"/>
<rect x="1430" y="429" width="1" height="11"/>
<rect x="1430" y="446" width="1" height="16"/>
<rect x="1427" y="440" width="7" height="6"/>
<rect x="1428" y="441" width="5" height="4" fill="#fff"/>
<rect x="1439" y="474" width="1" height="9"/>
<rect x="1436" y="435" width="7" height="39"/>
<rect x="1449" y="462" width="1" height="18"/>
<rect x="1449" y="486" width="1" height="7"/>
<rect x="1446" y="480" width="7" height="6"/>
<rect x="1459" y="486" width="1" height="2"/>
<rect x="1459" y="510" width="1" height="12"/>
<rect x="1456" y="488" width="7" height="22"/>
<rect x="1468" y="499" width="1" height="10"/>
<rect x="1468" y="511" width="1" height="13"/>
<rect x="1465" y="509" width="7" height="2"/>
<rect x="1478" y="477" width="1" height="26"/>
<rect x="1478" y="505" width="1" height="11"/>
<rect x="1475" y="503" width="7" height="2"/>
<rect x="1488" y="491" width="1" height="3"/>
<rect x="1488" y="499" width="1" height="9"/>
<rect x="1485" y="494" width="7" height="5"/>
<rect x="1486" y="495" width="5" height="3" fill="#fff"/>
<rect x="1498" y="480" width="1" height="6"/>
<rect x="1498" y="498" width="1" height="13"/>
<rect x="1495" y="486" width="7" height="12"/>
<rect x="1496" y="487" width="5" height="10" fill="#fff"/>
<rect x="1507" y="483" width="1" height="5"/>
<rect x="1507" y="503" width="1" height="10"/>
<rect x="1504" y="488" width="7" height="15"/>
<rect x="1517" y="489" width="1" height="17"/>
<rect x="1517" y="508" width="1" height="8"/>
<rect x="1514" y="506" width="7" height="2"/>
<rect x="1527" y="510" width="1" height="17"/>
<rect x="1524" y="493" width="7" height="17"/>
<rect x="1536" y="502" width="1" height="8"/>
<rect x="1536" y="524" width="1" height="3"/>
<rect x="1533" y="510" width="7" height="14"/>
<rect x="1546" y="509" width="1" height="13"/>
<rect x="1546" y="526" width="1" height="19"/>
<rect x="1543" y="522" width="7" height="4"/>
<rect x="1556" y="563" width="1" height="6"/>
<rect x="1553" y="535" width="7" height="28"/>
<rect x="1562" y="544" width="7" height="19"/>
<rect x="1563" y="545" width="5" height="17" fill="#fff"/>
<rect x="1575" y="491" width="1" height="58"/>
<rect x="1572" y="549" width="7" height="8"/>
<rect x="1573" y="550" width="5" height="6" fill="#fff"/>
<rect x="1585" y="509" width="1" height="3"/>
<rect x="1585" y="547" width="1" height="2"/>
<rect x="1582" y="512" width="7" height="35"/>
<rect x="1583" y="513" width="5" height="33" fill="#fff"/>
<rect x="1595" y="512" width="1" height="9"/>
<rect x="1595" y="528" width="1" height="15"/>
<rect x="1592" y="521" width="7" height="7"/>
<rect x="1604" y="529" width="1" height="3"/>
<rect x="1604" y="536" width="1" height="8"/>
<rect x="1601" y="532" width="7" height="4"/>
<rect x="1602" y="533" width="5" height="2" fill="#fff"/>
<rect x="1614" y="526" width="1" height="6"/>
<rect x="1614" y="539" width="1" height="1"/>
<rect x="1611" y="532" width="7" height="7"/>
<rect x="1624" y="529" width="1" height="3"/>
<rect x="1624" y="539" width="1" height="15"/>
<rect x="1621" y="532" width="7" height="7"/>
<rect x="1622" y="533" width="5" height="5" fill="#fff"/>
<rect x="1633" y="538" width="1" height="1"/>
<rect x="1633" y="553" width="1" height="9"/>
<rect x="1630" y="539" width="7" height="14"/>
<rect x="1643" y="564" width="1" height="6"/>
<rect x="1640" y="553" width="7" height="11"/>
</g>
<g shape-rendering="crispEdges" fill="#50535e">
<rect x="6" y="43" width="1761" height="1"/>
<rect x="6" y="43" width="1" height="923"/>
<rect x="1766" y="43" width="1" height="923"/>
<rect x="6" y="965" width="1761" height="1"/>
<rect x="1702" y="43" width="1" height="923"/>
<rect x="6" y="675" width="1761" height="1"/>
<rect x="6" y="936" width="1761" height="1"/>
</g>
<g shape-rendering="crispEdges" fill="#50535e">
<rect x="1703" y="72" width="4" height="1"/>
<rect x="1703" y="102" width="4" height="1"/>
<rect x="1703" y="132" width="4" height="1"/>
<rect x="1703" y="162" width="4" height="1"/>
<rect x="1703" y="192" width="4" height="1"/>
<rect x="1703" y="222" width="4" height="1"/>
<rect x="1703" y="252" width="4" height="1"/>
<rect x="1703" y="282" width="4" height="1"/>
<rect x="1703" y="312" width="4" height="1"/>
<rect x="1703" y="342" width="4" height="1"/>
<rect x="1703" y="372" width="4" height="1"/>
<rect x="1703" y="402" width="4" height="1"/>
<rect x="1703" y="432" width="4" height="1"/>
<rect x="1703" y="462" width="4" height="1"/>
<rect x="1703" y="492" width="4" height="1"/>
<rect x="1703" y="522" width="4" height="1"/>
<rect x="1703" y="552" width="4" height="1"/>
<rect x="1703" y="582" width="4" height="1"/>
<rect x="1703" y="612" width="4" height="1"/>
<rect x="1703" y="642" width="4" height="1"/>
<rect x="1703" y="672" width="4" height="1"/>
<rect x="1703" y="702" width="4" height="1"/>
<rect x="1703" y="742" width="4" height="1"/>
<rect x="1703" y="783" width="4" height="1"/>
<rect x="1703" y="823" width="4" height="1"/>
<rect x="1703" y="864" width="4" height="1"/>
<rect x="1703" y="904" width="4" height="1"/>
<rect x="71" y="937" width="1" height="4"/>
<rect x="168" y="937" width="1" height="4"/>
<rect x="265" y="937" width="1" height="4"/>
<rect x="381" y="937" width="1" height="4"/>
<rect x="508" y="937" width="1" height="4"/>
<rect x="605" y="937" width="1" height="4"/>
<rect x="702" y="937" width="1" height="4"/>
<rect x="808" y="937" width="1" height="4"/>
<rect x="896" y="937" width="1" height="4"/>
<rect x="1022" y="937" width="1" height="4"/>
<rect x="1138" y="937" width="1" height="4"/>
<rect x="1235" y="937" width="1" height="4"/>
<rect x="1333" y="937" width="1" height="4"/>
<rect x="1439" y="937" width="1" height="4"/>
<rect x="1527" y="937" width="1" height="4"/>
<rect x="1663" y="937" width="1" height="4"/>
</g>
<g clip-path="url(#cpScale)">
<text x="1711.4" y="76.9" font-size="12" fill="#50535e" font-weight="normal" text-anchor="start" textLength="35.2" lengthAdjust="spacingAndGlyphs">98.000</text>
<text x="1711.4" y="106.9" font-size="12" fill="#50535e" font-weight="normal" text-anchor="start" textLength="35.2" lengthAdjust="spacingAndGlyphs">97.500</text>
<text x="1711.4" y="136.9" font-size="12" fill="#50535e" font-weight="normal" text-anchor="start" textLength="35.2" lengthAdjust="spacingAndGlyphs">97.000</text>
<text x="1711.4" y="166.9" font-size="12" fill="#50535e" font-weight="normal" text-anchor="start" textLength="35.2" lengthAdjust="spacingAndGlyphs">96.500</text>
<text x="1711.4" y="196.9" font-size="12" fill="#50535e" font-weight="normal" text-anchor="start" textLength="35.2" lengthAdjust="spacingAndGlyphs">96.000</text>
<text x="1711.4" y="226.9" font-size="12" fill="#50535e" font-weight="normal" text-anchor="start" textLength="35.2" lengthAdjust="spacingAndGlyphs">95.500</text>
<text x="1711.4" y="256.9" font-size="12" fill="#50535e" font-weight="normal" text-anchor="start" textLength="35.2" lengthAdjust="spacingAndGlyphs">95.000</text>
<text x="1711.4" y="286.9" font-size="12" fill="#50535e" font-weight="normal" text-anchor="start" textLength="35.2" lengthAdjust="spacingAndGlyphs">94.500</text>
<text x="1711.4" y="316.9" font-size="12" fill="#50535e" font-weight="normal" text-anchor="start" textLength="35.2" lengthAdjust="spacingAndGlyphs">94.000</text>
<text x="1711.4" y="346.9" font-size="12" fill="#50535e" font-weight="normal" text-anchor="start" textLength="35.2" lengthAdjust="spacingAndGlyphs">93.500</text>
<text x="1711.4" y="376.9" font-size="12" fill="#50535e" font-weight="normal" text-anchor="start" textLength="35.2" lengthAdjust="spacingAndGlyphs">93.000</text>
<text x="1711.4" y="406.9" font-size="12" fill="#50535e" font-weight="normal" text-anchor="start" textLength="35.2" lengthAdjust="spacingAndGlyphs">92.500</text>
<text x="1711.4" y="436.9" font-size="12" fill="#50535e" font-weight="normal" text-anchor="start" textLength="35.2" lengthAdjust="spacingAndGlyphs">92.000</text>
<text x="1711.4" y="466.9" font-size="12" fill="#50535e" font-weight="normal" text-anchor="start" textLength="35.2" lengthAdjust="spacingAndGlyphs">91.500</text>
<text x="1711.4" y="496.9" font-size="12" fill="#50535e" font-weight="normal" text-anchor="start" textLength="35.2" lengthAdjust="spacingAndGlyphs">91.000</text>
<text x="1711.4" y="526.9" font-size="12" fill="#50535e" font-weight="normal" text-anchor="start" textLength="35.2" lengthAdjust="spacingAndGlyphs">90.500</text>
<text x="1711.4" y="556.9" font-size="12" fill="#50535e" font-weight="normal" text-anchor="start" textLength="35.2" lengthAdjust="spacingAndGlyphs">90.000</text>
<text x="1711.4" y="586.9" font-size="12" fill="#50535e" font-weight="normal" text-anchor="start" textLength="35.2" lengthAdjust="spacingAndGlyphs">89.500</text>
<text x="1711.4" y="616.9" font-size="12" fill="#50535e" font-weight="normal" text-anchor="start" textLength="35.2" lengthAdjust="spacingAndGlyphs">89.000</text>
<text x="1711.4" y="646.9" font-size="12" fill="#50535e" font-weight="normal" text-anchor="start" textLength="35.2" lengthAdjust="spacingAndGlyphs">88.500</text>
<text x="1711.4" y="676.9" font-size="12" fill="#50535e" font-weight="normal" text-anchor="start" textLength="35.2" lengthAdjust="spacingAndGlyphs">88.000</text>
</g>
<text x="1711.4" y="706.6" font-size="12" fill="#50535e" font-weight="normal" text-anchor="start" textLength="29" lengthAdjust="spacingAndGlyphs">70.00</text>
<text x="1711.4" y="747.1" font-size="12" fill="#50535e" font-weight="normal" text-anchor="start" textLength="29" lengthAdjust="spacingAndGlyphs">60.00</text>
<text x="1711.4" y="787.6" font-size="12" fill="#50535e" font-weight="normal" text-anchor="start" textLength="29" lengthAdjust="spacingAndGlyphs">50.00</text>
<text x="1711.4" y="828.1" font-size="12" fill="#50535e" font-weight="normal" text-anchor="start" textLength="29" lengthAdjust="spacingAndGlyphs">40.00</text>
<text x="1711.4" y="868.6" font-size="12" fill="#50535e" font-weight="normal" text-anchor="start" textLength="29" lengthAdjust="spacingAndGlyphs">30.00</text>
<text x="1711.4" y="909.1" font-size="12" fill="#50535e" font-weight="normal" text-anchor="start" textLength="29" lengthAdjust="spacingAndGlyphs">20.00</text>
<rect x="1718.5" y="50.5" width="31" height="19" rx="3" fill="#fff" stroke="#d1d4dc"/>
<text x="1723.8" y="62.6" font-size="11" fill="#50535e" font-weight="normal" text-anchor="start" textLength="20.4" lengthAdjust="spacingAndGlyphs">USD</text>
<rect x="1702" y="309" width="53" height="19" fill="#4caf50" shape-rendering="crispEdges"/>
<rect x="1703" y="318" width="4" height="1" fill="#fff" shape-rendering="crispEdges"/>
<text x="1711.2" y="323" font-size="12" fill="#fff" font-weight="normal" text-anchor="start" textLength="35.4" lengthAdjust="spacingAndGlyphs" stroke="#fff" stroke-width="0.3">93.900</text>
<rect x="1702" y="423" width="53" height="19" fill="#4caf50" shape-rendering="crispEdges"/>
<rect x="1703" y="432" width="4" height="1" fill="#fff" shape-rendering="crispEdges"/>
<text x="1711.2" y="437" font-size="12" fill="#fff" font-weight="normal" text-anchor="start" textLength="35.4" lengthAdjust="spacingAndGlyphs" stroke="#fff" stroke-width="0.3">92.000</text>
<rect x="1702" y="554" width="53" height="19" fill="#000" shape-rendering="crispEdges"/>
<rect x="1703" y="563" width="4" height="1" fill="#fff" shape-rendering="crispEdges"/>
<text x="1711.2" y="568" font-size="12" fill="#fff" font-weight="normal" text-anchor="start" textLength="35.4" lengthAdjust="spacingAndGlyphs" stroke="#fff" stroke-width="0.3">89.813</text>
<rect x="1703" y="574" width="59" height="19" fill="#000" shape-rendering="crispEdges"/>
<text x="1707.5" y="588" font-size="12" fill="#fff" font-weight="normal" text-anchor="start" textLength="46.1" lengthAdjust="spacingAndGlyphs" stroke="#fff" stroke-width="0.3">17:36:26</text>
<rect x="1702" y="609" width="53" height="19" fill="#2196f3" shape-rendering="crispEdges"/>
<rect x="1703" y="618" width="4" height="1" fill="#fff" shape-rendering="crispEdges"/>
<text x="1711.2" y="623" font-size="12" fill="#fff" font-weight="normal" text-anchor="start" textLength="35.4" lengthAdjust="spacingAndGlyphs" stroke="#fff" stroke-width="0.3">88.900</text>
<rect x="1702" y="648" width="53" height="19" fill="#2196f3" shape-rendering="crispEdges"/>
<rect x="1703" y="657" width="4" height="1" fill="#fff" shape-rendering="crispEdges"/>
<text x="1711.2" y="662" font-size="12" fill="#fff" font-weight="normal" text-anchor="start" textLength="35.4" lengthAdjust="spacingAndGlyphs" stroke="#fff" stroke-width="0.3">88.250</text>
<text x="65.5" y="955.9" font-size="12" fill="#50535e" font-weight="normal" text-anchor="start" textLength="12" lengthAdjust="spacingAndGlyphs">18</text>
<text x="159.25" y="955.9" font-size="12" fill="#50535e" font-weight="normal" text-anchor="start" textLength="18.5" lengthAdjust="spacingAndGlyphs">Jun</text>
<text x="259.5" y="955.9" font-size="12" fill="#50535e" font-weight="normal" text-anchor="start" textLength="12" lengthAdjust="spacingAndGlyphs">15</text>
<text x="373.6" y="955.9" font-size="12" fill="#50535e" font-weight="normal" text-anchor="start" textLength="15.8" lengthAdjust="spacingAndGlyphs">Jul</text>
<text x="502.5" y="955.9" font-size="12" fill="#50535e" font-weight="normal" text-anchor="start" textLength="12" lengthAdjust="spacingAndGlyphs">20</text>
<text x="595.85" y="955.9" font-size="12" fill="#50535e" font-weight="normal" text-anchor="start" textLength="19.3" lengthAdjust="spacingAndGlyphs">Aug</text>
<text x="696.5" y="955.9" font-size="12" fill="#50535e" font-weight="normal" text-anchor="start" textLength="12" lengthAdjust="spacingAndGlyphs">17</text>
<text x="799.0" y="955.9" font-size="12" fill="#50535e" font-weight="normal" text-anchor="start" textLength="19" lengthAdjust="spacingAndGlyphs">Sep</text>
<text x="890.5" y="955.9" font-size="12" fill="#50535e" font-weight="normal" text-anchor="start" textLength="12" lengthAdjust="spacingAndGlyphs">14</text>
<text x="1013.2" y="955.9" font-size="12" fill="#50535e" font-weight="normal" text-anchor="start" textLength="18.6" lengthAdjust="spacingAndGlyphs">Oct</text>
<text x="1132.5" y="955.9" font-size="12" fill="#50535e" font-weight="normal" text-anchor="start" textLength="12" lengthAdjust="spacingAndGlyphs">19</text>
<text x="1225.7" y="955.9" font-size="12" fill="#50535e" font-weight="normal" text-anchor="start" textLength="19.6" lengthAdjust="spacingAndGlyphs">Nov</text>
<text x="1327.5" y="955.9" font-size="12" fill="#50535e" font-weight="normal" text-anchor="start" textLength="12" lengthAdjust="spacingAndGlyphs">16</text>
<text x="1429.85" y="955.9" font-size="12" fill="#50535e" font-weight="normal" text-anchor="start" textLength="19.3" lengthAdjust="spacingAndGlyphs">Dec</text>
<text x="1521.5" y="955.9" font-size="12" fill="#50535e" font-weight="normal" text-anchor="start" textLength="12" lengthAdjust="spacingAndGlyphs">14</text>
<text x="1650.75" y="955.9" font-size="12" fill="#50535e" font-weight="bold" text-anchor="start" textLength="25.5" lengthAdjust="spacingAndGlyphs">2021</text>
<g>
<g fill="#2196f3"><circle cx="10.3" cy="986.7" r="4.4"/><circle cx="16.6" cy="982.3" r="6.5"/><circle cx="25.6" cy="984" r="4"/><circle cx="28" cy="987" r="4.1"/><rect x="10.3" y="984" width="17.7" height="7.1"/></g>
<path d="M6.6 988.9L15.9 981.6L22 987.3L27.9 981" stroke="#fff" stroke-width="1" fill="none"/>
<circle cx="15.9" cy="981.6" r="1.7" fill="#fff"/><circle cx="22" cy="987.3" r="1.7" fill="#fff"/>
</g>
<text x="34.2" y="987.9" font-size="13" fill="#1c1f2a" font-weight="normal" text-anchor="start" textLength="70.6" lengthAdjust="spacingAndGlyphs">TradingView</text>
</svg>
</body></html>
